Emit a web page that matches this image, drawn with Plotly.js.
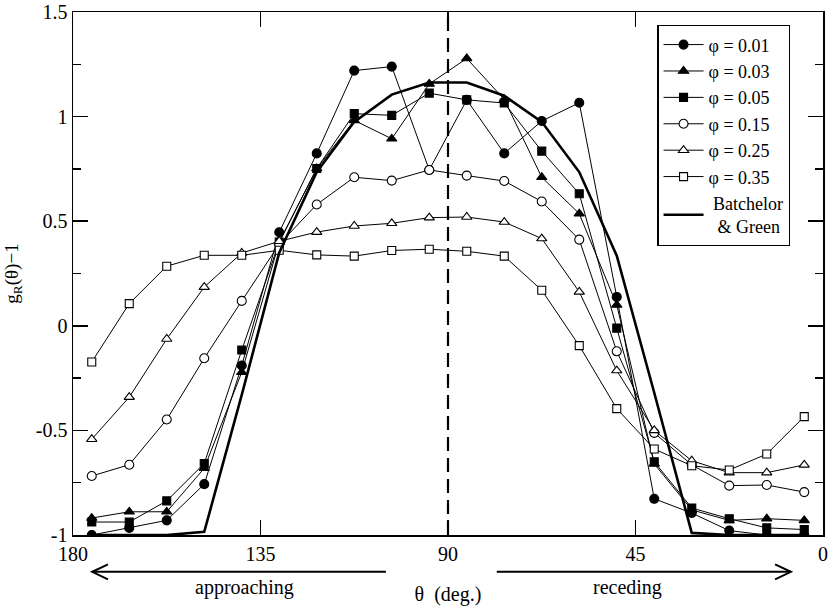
<!DOCTYPE html>
<html>
<head>
<meta charset="utf-8">
<script src="https://cdn.plot.ly/plotly-3.0.1.min.js"></script>
<style>html,body{margin:0;padding:0;background:#fff;}#chart{width:830px;height:606px;}</style>
</head>
<body>
<div id="chart"></div>
<script>
// ---- data ----
const theta = [175.5,166.5,157.5,148.5,139.5,130.5,121.5,112.5,103.5,94.5,85.5,76.5,67.5,58.5,49.5,40.5,31.5,22.5,13.5,4.5];
const phi001 = [-1.0,-0.966,-0.930,-0.757,-0.190,0.447,0.824,1.220,1.239,0.745,1.080,0.824,0.979,1.066,0.138,-0.827,-0.895,-0.979,-1.0,-1.0];
const phi003 = [-0.919,-0.889,-0.889,-0.681,-0.222,0.40,0.752,0.982,0.894,1.156,1.278,1.082,0.710,0.536,0.10,-0.66,-0.88,-0.93,-0.922,-0.930];
const phi005 = [-0.938,-0.938,-0.837,-0.658,-0.116,0.40,0.752,1.014,1.006,1.112,1.08,1.065,0.835,0.631,-0.011,-0.650,-0.871,-0.922,-0.966,-0.974];
const phi015 = [-0.718,-0.664,-0.448,-0.155,0.119,0.39,0.580,0.710,0.694,0.745,0.718,0.692,0.594,0.412,-0.122,-0.512,-0.665,-0.764,-0.761,-0.795];
const phi025 = [-0.542,-0.341,-0.063,0.185,0.348,0.404,0.448,0.477,0.490,0.517,0.520,0.496,0.417,0.162,-0.214,-0.50,-0.645,-0.702,-0.702,-0.665];
const phi035 = [-0.173,0.106,0.285,0.337,0.337,0.361,0.339,0.333,0.360,0.366,0.356,0.333,0.170,-0.095,-0.396,-0.589,-0.669,-0.689,-0.613,-0.434];
const batchelorGreen = [-1,-1,-1,-0.985,-0.33,0.35,0.735,0.975,1.105,1.163,1.163,1.1,0.975,0.735,0.335,-0.32,-0.99,-1,-1,-1];

const seriesNames = ['φ = 0.01','φ = 0.03','φ = 0.05','φ = 0.15','φ = 0.25','φ = 0.35'];
const bgName = ' Batchelor<br>  & Green';
const xTickVals = [180,135,90,45,0];
const xTickText = ['180','135','90','45','0'];
const yTickVals = [-1,-0.5,0,0.5,1,1.5];
const yTickText = ['-1','-0.5','0','0.5','1','1.5'];
const yMinorVals = [-0.75,-0.25,0.25,0.75,1.25];
const dividerAngle = 90;

// ---- styles ----
const FONT = 'Liberation Serif';
const seriesData = [phi001,phi003,phi005,phi015,phi025,phi035];
const symbols = ['circle','triangle-up','square','circle','triangle-up','square'];
const fills = ['black','black','black','white','white','white'];
const sizes = [9,9,8,9,9,8];

const traces = [];
const bgTrace = {
  x: theta, y: batchelorGreen, name: bgName, mode: 'lines',
  line: {color: 'black', width: 2.6}
};
seriesData.forEach((ys, i) => {
  traces.push({
    x: theta, y: ys, name: seriesNames[i], mode: 'lines+markers',
    line: {color: 'black', width: 1},
    marker: {symbol: symbols[i], size: sizes[i], color: fills[i], line: {color: 'black', width: 1.1}}
  });
});
const drawTraces = traces.concat([bgTrace]);

// arrow geometry (decoration, in axis units / paper units)
const arrowY = -0.0705, armDY = 0.0143;
const leftTip = 175.4, leftTail = 104.9, leftArm = 171.6;
const rightTip = 7.7, rightTail = 78.3, rightArm = 11.5;
const arrowLine = {color: 'black', width: 2};

const layout = {
  width: 830, height: 606,
  margin: {l: 73, r: 7, t: 12, b: 71},
  paper_bgcolor: 'white', plot_bgcolor: 'white',
  font: {family: FONT, color: 'black', size: 20},
  showlegend: true,
  legend: {
    x: 0.779, y: 0.975, xanchor: 'left', yanchor: 'top',
    bordercolor: 'black', borderwidth: 1.3, bgcolor: 'white',
    font: {family: FONT, size: 18, color: 'black'},
    itemwidth: 40, tracegroupgap: 0
  },
  xaxis: {
    range: [180, 0], autorange: false,
    tickmode: 'array', tickvals: xTickVals, ticktext: xTickText,
    ticks: 'inside', ticklen: 15, tickwidth: 1.5, tickcolor: 'black',
    showline: true, linecolor: 'black', linewidth: 1.5, mirror: 'ticks',
    showgrid: false, zeroline: false, ticklabeloverflow: 'allow',
    tickfont: {family: FONT, size: 20},
    title: {text: 'θ  (deg.)', font: {family: FONT, size: 20}, standoff: 25}
  },
  yaxis: {
    range: [-1, 1.5], autorange: false,
    tickmode: 'array', tickvals: yTickVals, ticktext: yTickText,
    ticks: 'inside', ticklen: 15, tickwidth: 1.5, tickcolor: 'black',
    minor: {tickmode: 'array', tickvals: yMinorVals, ticks: 'inside', ticklen: 8, tickwidth: 1.5, tickcolor: 'black', showgrid: false},
    showline: true, linecolor: 'black', linewidth: 1.5, mirror: 'ticks',
    showgrid: false, zeroline: false, ticklabeloverflow: 'allow',
    tickfont: {family: FONT, size: 20},
    title: {text: 'g<sub>R</sub>(θ)−1', font: {family: FONT, size: 19}, standoff: 12}
  },
  shapes: [
    {type: 'line', xref: 'x', yref: 'paper', x0: dividerAngle, x1: dividerAngle, y0: 0, y1: 1,
     line: {color: 'black', width: 2.2, dash: '14px,7px'}, layer: 'below'},
    {type: 'line', xref: 'x', yref: 'paper', x0: leftTail, x1: leftTip, y0: arrowY, y1: arrowY, line: arrowLine},
    {type: 'path', xref: 'x', yref: 'paper',
     path: `M ${leftArm},${arrowY + armDY} L ${leftTip},${arrowY} L ${leftArm},${arrowY - armDY}`, line: arrowLine},
    {type: 'line', xref: 'x', yref: 'paper', x0: rightTail, x1: rightTip, y0: arrowY, y1: arrowY, line: arrowLine},
    {type: 'path', xref: 'x', yref: 'paper',
     path: `M ${rightArm},${arrowY + armDY} L ${rightTip},${arrowY} L ${rightArm},${arrowY - armDY}`, line: arrowLine}
  ],
  annotations: [
    {xref: 'x', yref: 'paper', x: 138.9, y: -0.101, yanchor: 'middle', xanchor: 'center', text: 'approaching', showarrow: false,
     font: {family: FONT, size: 20}},
    {xref: 'x', yref: 'paper', x: 47.0, y: -0.101, yanchor: 'middle', xanchor: 'center', text: 'receding', showarrow: false,
     font: {family: FONT, size: 20}}
  ]
};

Plotly.newPlot('chart', drawTraces, layout, {displayModeBar: false, staticPlot: true});
</script>
</body>
</html>
